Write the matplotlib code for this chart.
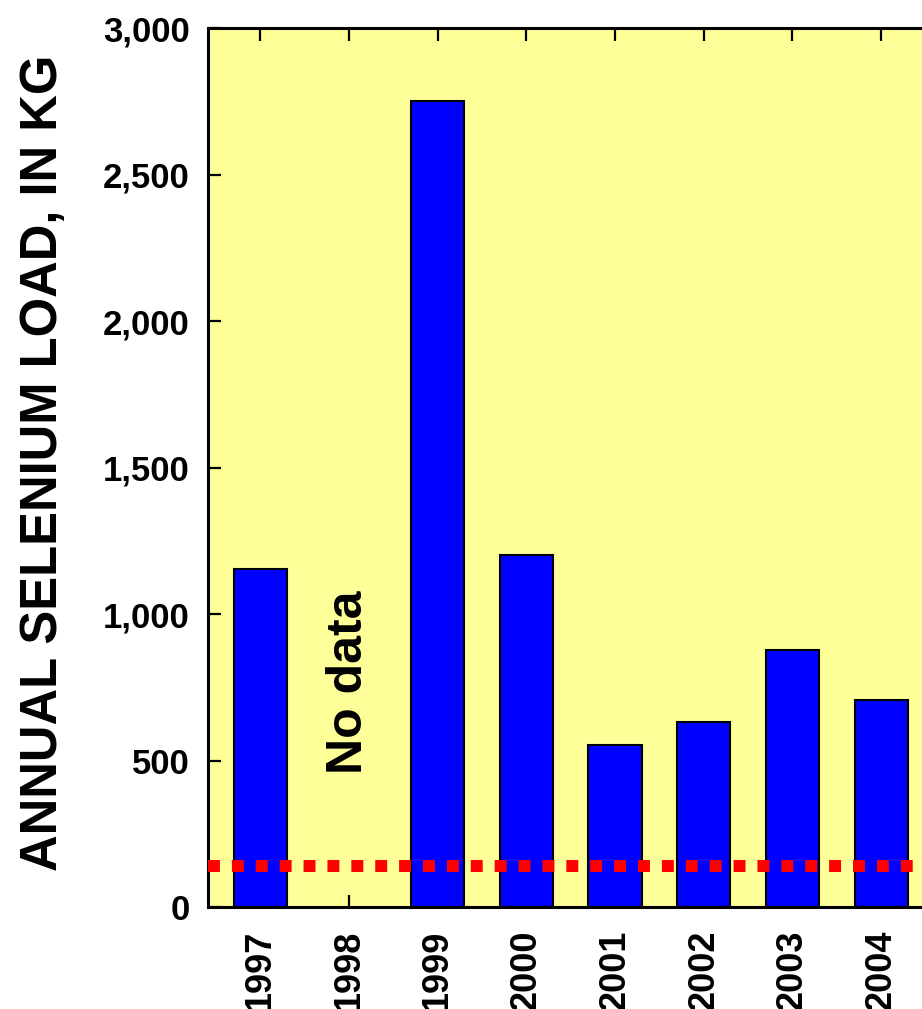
import matplotlib.pyplot as plt
from matplotlib.ticker import FuncFormatter

years = [1997, 1998, 1999, 2000, 2001, 2002, 2003, 2004]
# no sampling in 1998
loads = [1155, None, 2750, 1200, 553, 631, 877, 706]
target_load = 140

plt.rcParams['font.family'] = ['Liberation Sans', 'DejaVu Sans']
plt.rcParams['font.weight'] = 'bold'

fig = plt.figure(figsize=(9.22, 10.09), dpi=100)
# right side of the panel runs past the figure edge
ax = fig.add_axes([0.2256, 0.1011, 0.883, 0.8711])
ax.set_facecolor('#FFFF99')

bar_years = [y for y, v in zip(years, loads) if v is not None]
bar_vals = [v for v in loads if v is not None]
ax.bar(bar_years, bar_vals, width=0.6, color='#0000FF', edgecolor='black',
       linewidth=1.5, zorder=2)

ax.axhline(target_load, color='#FF0000', linewidth=8.6, linestyle=(0, (1, 1)),
           dash_capstyle='butt', zorder=3)

ax.text(1998, 768, 'No data', rotation=90, ha='center', va='center',
        fontsize=36, fontweight='bold')

ax.set_xlim(1996.41, 2005.59)
ax.set_ylim(0, 3000)
ax.set_xticks(years)
ax.set_xticklabels([str(y) for y in years], rotation=90)
ax.set_yticks(range(0, 3001, 500))
ax.yaxis.set_major_formatter(FuncFormatter(lambda v, p: f'{int(v):,}'))

ax.tick_params(axis='both', direction='in', length=9, width=1.6,
               top=True, right=True)
ax.tick_params(axis='y', pad=13, labelsize=25)
ax.tick_params(axis='x', pad=16, labelsize=26)
for s in ax.spines.values():
    s.set_linewidth(2.2)

ax.set_ylabel('ANNUAL SELENIUM LOAD, IN KG', fontsize=36.5, fontweight='bold',
              va='center')
ax.yaxis.set_label_coords(-0.2015, 0.505)

fig.savefig('out.png', dpi=100)
